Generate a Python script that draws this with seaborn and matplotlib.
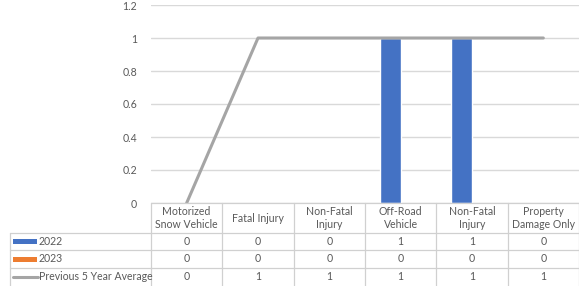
import numpy as np
import pandas as pd
import seaborn as sns
import matplotlib.pyplot as plt
from matplotlib.lines import Line2D
from matplotlib.patches import Rectangle

# data
categories = ["Motorized\nSnow Vehicle", "Fatal Injury", "Non-Fatal\nInjury",
              "Off-Road\nVehicle", "Non-Fatal\nInjury", "Property\nDamage Only"]
vals_2022 = [0, 0, 0, 1, 1, 0]
vals_2023 = [0, 0, 0, 0, 0, 0]
prev_avg = [0, 1, 1, 1, 1, 1]
series_names = ["2022", "2023", "Previous 5 Year Average"]

BLUE, ORANGE, GRAY = "#4472C4", "#ED7D31", "#A5A5A5"
TXT = "#595959"
GRID = "#D9D9D9"

sns.set_style("white")
plt.rcParams["font.family"] = ["Lato", "DejaVu Sans"]

W, H = 579, 286
fig = plt.figure(figsize=(W / 100, H / 100), dpi=100)

def fx(px):
    return px / W

def fy(py):
    return 1 - py / H

left, right, top, bot = 151, 579, 5, 203
ax = fig.add_axes([fx(left), fy(bot), fx(right - left), (bot - top) / H])

pos = list(range(len(categories)))
df = pd.DataFrame({
    "pos": pos * 2,
    "value": vals_2022 + vals_2023,
    "series": ["2022"] * 6 + ["2023"] * 6,
})
sns.barplot(data=df, x="pos", y="value", hue="series", palette=[BLUE, ORANGE],
            width=0.58, ax=ax, legend=False, saturation=1)
sns.lineplot(x=pos, y=prev_avg, color=GRAY, lw=2.2, ax=ax, zorder=3)

ax.set_xlim(-0.5, 5.5)
ax.set_ylim(0, 1.2)
ax.set_yticks(np.arange(0, 1.21, 0.2))
ax.set_yticklabels(["0", "0.2", "0.4", "0.6", "0.8", "1", "1.2"])
ax.yaxis.grid(True, color=GRID, lw=1)
ax.set_axisbelow(True)
ax.tick_params(axis="y", length=0, pad=10, labelsize=7.6, labelcolor=TXT)
ax.set_xticks([])
ax.set_xlabel("")
ax.set_ylabel("")
for s in ax.spines.values():
    s.set_visible(False)

# data table below the plot
col_w = (right - left) / len(categories)
row_y = [203, 233, 250, 268, 286]
lc = "#D0D0D0"
fs = 7.6

def hline(x0, x1, y):
    fig.add_artist(Line2D([fx(x0), fx(x1)], [fy(y), fy(y)], color=lc, lw=0.9))

def vline(x, y0, y1):
    fig.add_artist(Line2D([fx(x), fx(x)], [fy(y0), fy(y1)], color=lc, lw=0.9))

hline(left, right, 203)
for y in row_y[1:4]:
    hline(10, right, y)
for k in range(len(categories) + 1):
    vline(left + k * col_w, 203, 286)
vline(10, 233, 286)

for i, c in enumerate(categories):
    cx = left + (i + 0.5) * col_w
    fig.text(fx(cx), fy(218), c, ha="center", va="center", fontsize=fs,
             color=TXT, linespacing=1.3)

rows = [vals_2022, vals_2023, prev_avg]
for r, vals in enumerate(rows):
    cy = (row_y[r + 1] + row_y[r + 2]) / 2
    for i, v in enumerate(vals):
        cx = left + (i + 0.5) * col_w
        fig.text(fx(cx), fy(cy), str(v), ha="center", va="center",
                 fontsize=fs, color=TXT)

# legend keys in the row labels
keys = [BLUE, ORANGE, GRAY]
for r, (name, col) in enumerate(zip(series_names, keys)):
    cy = (row_y[r + 1] + row_y[r + 2]) / 2
    if r < 2:
        fig.add_artist(Rectangle((fx(13), fy(cy + 2.5)), fx(24), 5 / H,
                                 color=col, lw=0))
    else:
        fig.add_artist(Line2D([fx(13), fx(38)], [fy(cy), fy(cy)], color=col, lw=2.2))
    fig.text(fx(39), fy(cy), name, ha="left", va="center", fontsize=fs, color=TXT)

fig.savefig("out.png", dpi=100)
